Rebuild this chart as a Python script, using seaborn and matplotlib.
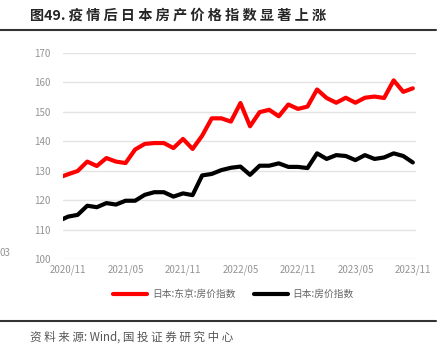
import matplotlib
matplotlib.use("Agg")
import matplotlib.pyplot as plt
import seaborn as sns
import pandas as pd
from matplotlib.lines import Line2D

# ---- data (month index 0 = 2020/11; -1 = 2020/10, partly clipped) ----
months = list(range(-1, 37))
tokyo = [127.6, 128.8, 129.9, 133.1, 131.6, 134.3, 133.1, 132.6, 137.2, 139.1,
         139.4, 139.4, 137.7, 140.8, 137.4, 141.9, 147.8, 147.8, 146.7, 153.0,
         145.1, 149.9, 150.7, 148.5, 152.5, 151.0, 151.8, 157.6, 154.7, 153.1,
         154.8, 153.1, 154.8, 155.2, 154.7, 160.7, 156.8, 158.0]
japan = [112.9, 114.4, 115.0, 118.1, 117.6, 119.0, 118.5, 119.8, 119.8, 121.8,
         122.7, 122.7, 121.2, 122.3, 121.7, 128.4, 128.9, 130.2, 131.0, 131.4,
         128.6, 131.7, 131.7, 132.5, 131.3, 131.3, 130.9, 135.9, 134.0, 135.3,
         135.0, 133.6, 135.3, 134.0, 134.5, 135.9, 135.0, 132.8]
series_names = ["日本:东京:房价指数", "日本:房价指数"]
tick_pos = [0, 6, 12, 18, 24, 30, 36]
tick_labels = ["2020/11", "2021/05", "2021/11", "2022/05", "2022/11", "2023/05", "2023/11"]
y_ticks = [100, 110, 120, 130, 140, 150, 160, 170]

df = pd.DataFrame({
    "m": months * 2,
    "v": tokyo + japan,
    "s": [series_names[0]] * len(months) + [series_names[1]] * len(months),
})

sns.set_theme(style="white")
plt.rcParams["font.family"] = ["Noto Sans CJK SC", "DejaVu Sans"]

fig = plt.figure(figsize=(4.46, 3.6), dpi=100)
ax = fig.add_axes([63.3 / 446, 1 - 259 / 360, (415.7 - 63.3) / 446, (259 - 53) / 360])

sns.lineplot(data=df, x="m", y="v", hue="s", palette=["#ff0000", "#000000"],
             linewidth=3, ax=ax, legend=False)

ax.set_xlim(-0.5, 36.3)
ax.set_ylim(100, 170)
ax.set_yticks(y_ticks)
ax.set_xticks(tick_pos)
ax.set_xticklabels(tick_labels)
ax.set_xlabel("")
ax.set_ylabel("")
for sp in ax.spines.values():
    sp.set_visible(False)
ax.yaxis.grid(True, color="#e3e3e3", linewidth=1.0)
ax.set_axisbelow(True)
ax.tick_params(axis="both", length=0, labelsize=7, labelcolor="#949494")
ax.tick_params(axis="y", pad=9)
ax.tick_params(axis="x", pad=4)

# legend
handles = [Line2D([], [], color="#ff0000", lw=3), Line2D([], [], color="#000000", lw=3)]
fig.legend(handles, series_names, loc="center", bbox_to_anchor=(233.5 / 446, 1 - 294 / 360),
           ncol=2, frameon=False, fontsize=7, handlelength=3.5, handletextpad=0.5,
           columnspacing=1.9, labelcolor="#666666")

# title and source
fig.text(30 / 446, 1 - 16 / 360, "图49. 疫 情 后 日 本 房 产 价 格 指 数 显 著 上 涨",
         fontsize=10.2, fontweight="bold", color="#262626", va="center", ha="left")
fig.text(30 / 446, 1 - 337 / 360, "资 料 来 源: Wind, 国 投 证 券 研 究 中 心",
         fontsize=8.3, color="#555555", va="center", ha="left", style="italic")
fig.text(0, 1 - 253 / 360, "03", fontsize=7, color="#949494", va="center", ha="left")

# horizontal rules
fig.add_artist(Line2D([0, 436 / 446], [1 - 30 / 360] * 2, color="#333333", lw=1.5,
                      transform=fig.transFigure))
fig.add_artist(Line2D([0, 436 / 446], [1 - 321 / 360] * 2, color="#333333", lw=1.5,
                      transform=fig.transFigure))

fig.savefig("out.png", dpi=100)
